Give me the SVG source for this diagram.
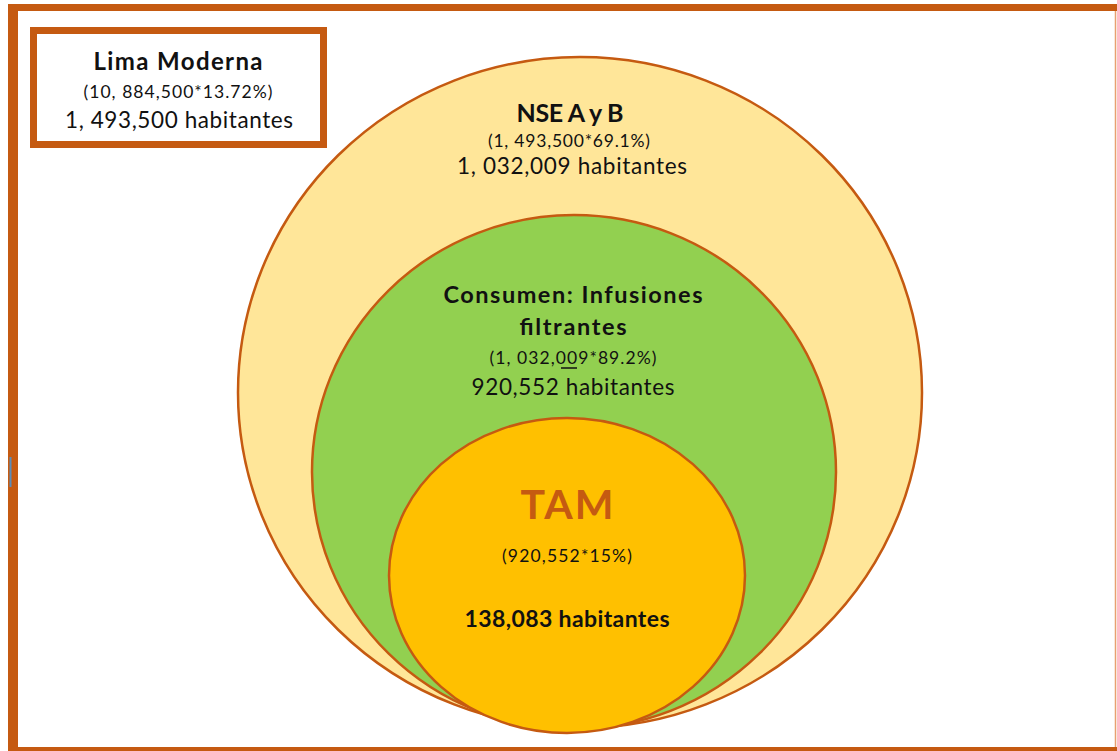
<svg xmlns="http://www.w3.org/2000/svg" width="1117" height="751" viewBox="0 0 1117 751">
  <style>
    text { font-family: Lato, "Open Sans", "Liberation Sans", sans-serif; fill: #111; text-anchor: middle; }
    .b { font-weight: bold; }
    .big { font-size: 22.5px; }
    .small { font-size: 17.5px; }
    .ring { stroke: #C55A11; stroke-width: 2.5; }
  </style>
  <rect width="1117" height="751" fill="#ffffff"/>
  <g id="frame">
    <rect x="8" y="4" width="1109" height="7" fill="#C55A11"/>
    <rect x="8" y="4" width="10" height="747" fill="#C55A11"/>
    <rect x="8" y="747" width="1109" height="4" fill="#C55A11"/>
    <line x1="1115.5" y1="11" x2="1115.5" y2="747" stroke="#E8A070" stroke-width="1.5"/>
    <line x1="10.5" y1="457" x2="10.5" y2="487" stroke="#5B8DB8" stroke-width="2"/>
  </g>
  <g id="lima-moderna">
    <rect x="33.5" y="30.5" width="290" height="114" fill="#ffffff" stroke="#C55A11" stroke-width="7"/>
    <text x="178" y="70" class="b" font-size="24" textLength="169">Lima Moderna</text>
    <text x="178" y="98" class="small" textLength="189">(10, 884,500*13.72%)</text>
    <text x="179" y="128" class="big" textLength="228">1, 493,500 habitantes</text>
  </g>
  <g id="nse">
    <ellipse cx="580" cy="392.5" rx="342" ry="335.5" fill="#FFE699" class="ring"/>
    <text x="570" y="122" class="b" font-size="25" textLength="107">NSE A y B</text>
    <text x="569" y="147" class="small" textLength="162">(1, 493,500*69.1%)</text>
    <text x="572" y="174" class="big" textLength="230">1, 032,009 habitantes</text>
  </g>
  <g id="consumen">
    <ellipse cx="574" cy="472" rx="262" ry="257" fill="#92D050" class="ring"/>
    <text x="573" y="303" class="b" font-size="23.5" textLength="259">Consumen: Infusiones</text>
    <text x="573" y="335" class="b" font-size="23.5" textLength="107">filtrantes</text>
    <text x="573" y="364" class="small" textLength="167">(1, 032,009*89.2%)</text>
    <line x1="561" y1="368" x2="577" y2="368" stroke="#111" stroke-width="1.5"/>
    <text x="573" y="395" class="big" textLength="203">920,552 habitantes</text>
  </g>
  <g id="tam">
    <ellipse cx="567" cy="575.5" rx="178" ry="157.5" fill="#FFC000" class="ring"/>
    <text x="567" y="519" class="b" font-size="41" textLength="93" style="fill:#C55A11">TAM</text>
    <text x="567" y="562" class="small" textLength="130">(920,552*15%)</text>
    <text x="567" y="627" class="b" font-size="23" textLength="205">138,083 habitantes</text>
  </g>
  <g id="connectors"/>
</svg>
